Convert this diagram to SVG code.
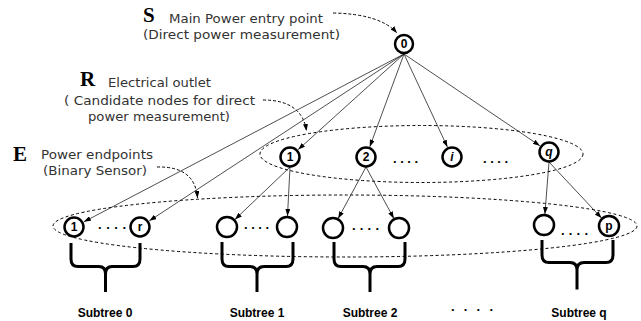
<svg xmlns="http://www.w3.org/2000/svg" width="641" height="321" viewBox="0 0 641 321">
<style>
.nd{fill:#fff;stroke:#000;stroke-width:2.5}
.lb{font-family:"Liberation Sans",Arial,sans-serif;font-size:12px;font-weight:bold;text-anchor:middle;fill:#000}
.ed{stroke:#222;stroke-width:0.8;fill:none;marker-end:url(#ah)}
.dc{stroke:#000;stroke-width:1;stroke-dasharray:3 2;fill:none;marker-end:url(#ah)}
.el{stroke:#000;stroke-width:1;stroke-dasharray:3 2.5;fill:none}
.br{stroke:#000;stroke-width:3;fill:none;stroke-linejoin:round;stroke-linecap:butt}
.big{font-family:"Liberation Serif","Times New Roman",serif;font-weight:bold;font-size:21px;fill:#000}
.desc{font-family:"DejaVu Sans","Liberation Sans",sans-serif;font-size:12.5px;fill:#333}
.st{font-family:"Liberation Sans",Arial,sans-serif;font-size:12px;font-weight:bold;text-anchor:middle;fill:#000}
.dt{font-family:"Liberation Sans",Arial,sans-serif;font-size:13px;font-weight:bold;fill:#000}
</style>
<defs>
<marker id="ah" markerUnits="userSpaceOnUse" markerWidth="7" markerHeight="5" refX="7" refY="2.5" orient="auto">
<path d="M0,0 L7,2.5 L0,5 z" fill="#000"/>
</marker>
</defs>

<g id="labels">
<text class="big" x="143" y="22">S</text>
<text class="desc" x="169" y="23" textLength="154" lengthAdjust="spacingAndGlyphs">Main Power entry point</text>
<text class="desc" x="143" y="38.5" textLength="197" lengthAdjust="spacingAndGlyphs">(Direct power measurement)</text>
<text class="big" x="80" y="86">R</text>
<text class="desc" x="108" y="87" textLength="103" lengthAdjust="spacingAndGlyphs">Electrical outlet</text>
<text class="desc" x="64" y="105" textLength="191" lengthAdjust="spacingAndGlyphs">( Candidate nodes for direct</text>
<text class="desc" x="88" y="121" textLength="142" lengthAdjust="spacingAndGlyphs">power measurement)</text>
<text class="big" x="13" y="161">E</text>
<text class="desc" x="41" y="158.5" textLength="112" lengthAdjust="spacingAndGlyphs">Power endpoints</text>
<text class="desc" x="43" y="174.5" textLength="104" lengthAdjust="spacingAndGlyphs">(Binary Sensor)</text>
</g>

<g id="groups">
<ellipse class="el" cx="421.5" cy="154" rx="161.5" ry="28.5"/>
<ellipse class="el" cx="345" cy="226" rx="292" ry="31"/>
</g>

<g id="connectors">
<path class="dc" d="M333,13 Q380,14 397,33"/>
<path class="dc" d="M263,100 Q302,100 306.5,131"/>
<path class="dc" d="M157,167 Q195,166 197.5,198"/>
<line class="ed" x1="404" y1="54" x2="83.9" y2="221.8"/>
<line class="ed" x1="404" y1="54" x2="149.4" y2="220.8"/>
<line class="ed" x1="404" y1="54" x2="298.2" y2="149.6"/>
<line class="ed" x1="404" y1="54" x2="369.8" y2="146.7"/>
<line class="ed" x1="404" y1="54" x2="447.4" y2="147"/>
<line class="ed" x1="404" y1="54" x2="539.9" y2="145.8"/>
<line class="ed" x1="290" y1="167" x2="235.0" y2="219.4"/>
<line class="ed" x1="290" y1="167" x2="287.5" y2="216"/>
<line class="ed" x1="366" y1="167" x2="338.2" y2="218.4"/>
<line class="ed" x1="366" y1="167" x2="393.8" y2="218.4"/>
<line class="ed" x1="549" y1="162" x2="544.9" y2="214"/>
<line class="ed" x1="549" y1="162" x2="601.5" y2="218"/>
</g>

<g id="n0"><circle class="nd" cx="404" cy="44" r="9"/><text class="lb" x="404" y="48.3">0</text></g>
<g id="r1"><circle class="nd" cx="290" cy="157" r="9.5"/><text class="lb" x="290" y="161.3">1</text></g>
<g id="r2"><circle class="nd" cx="366" cy="157" r="9.5"/><text class="lb" x="366" y="161.3">2</text></g>
<g id="ri"><circle class="nd" cx="452" cy="157" r="9.5"/><text class="lb" x="452" y="161.3" font-style="italic">i</text></g>
<g id="rq"><circle class="nd" cx="549" cy="152" r="9.5"/><text class="lb" x="549" y="155.5" font-style="italic">q</text></g>
<g id="rdots">
<text class="dt" x="393" y="163" textLength="25" lengthAdjust="spacing">....</text>
<text class="dt" x="483" y="163" textLength="25" lengthAdjust="spacing">....</text>
</g>

<g id="b1"><circle class="nd" cx="74" cy="227" r="9.5"/><text class="lb" x="74" y="231.3" font-weight="normal">1</text></g>
<g id="br"><circle class="nd" cx="140" cy="227" r="9.5"/><text class="lb" x="140" y="231.3" font-weight="normal">r</text></g>
<g id="s1a"><circle class="nd" cx="227" cy="227" r="10"/></g>
<g id="s1b"><circle class="nd" cx="287" cy="227" r="10"/></g>
<g id="s2a"><circle class="nd" cx="333" cy="228" r="10"/></g>
<g id="s2b"><circle class="nd" cx="399" cy="228" r="10"/></g>
<g id="sqa"><circle class="nd" cx="544" cy="225" r="10"/></g>
<g id="sqb"><circle class="nd" cx="609" cy="226" r="10"/><text class="lb" x="609" y="230">p</text></g>
<g id="bdots">
<text class="dt" x="98" y="229" textLength="28" lengthAdjust="spacing">....</text>
<text class="dt" x="244" y="229" textLength="25" lengthAdjust="spacing">....</text>
<text class="dt" x="352" y="230" textLength="27" lengthAdjust="spacing">....</text>
<text class="dt" x="561" y="235" textLength="27" lengthAdjust="spacing">....</text>
</g>

<g id="braces">
<path class="br" d="M71,243 V259 Q71,266.5 78,266.5 H99 Q105.5,266.5 105.5,274 V292 M140,243 V259 Q140,266.5 133,266.5 H112 Q105.5,266.5 105.5,274"/>
<path class="br" d="M222,242 V259 Q222,266.5 229,266.5 H250 Q257,266.5 257,274 V292 M293,242 V259 Q293,266.5 286,266.5 H264 Q257,266.5 257,274"/>
<path class="br" d="M334,242 V259 Q334,266.5 341,266.5 H363 Q370,266.5 370,274 V292 M405,242 V259 Q405,266.5 398,266.5 H377 Q370,266.5 370,274"/>
<path class="br" d="M542,240 V255 Q542,262.5 549,262.5 H570 Q577,262.5 577,270 V289.5 M613,240 V255 Q613,262.5 606,262.5 H584 Q577,262.5 577,270"/>
</g>

<g id="subtree-labels">
<text class="st" x="105" y="317">Subtree 0</text>
<text class="st" x="257" y="317">Subtree 1</text>
<text class="st" x="370" y="317">Subtree 2</text>
<text class="st" x="579" y="317">Subtree q</text>
<text class="dt" x="451" y="311" font-size="18" textLength="42" lengthAdjust="spacing">....</text>
</g>
</svg>
